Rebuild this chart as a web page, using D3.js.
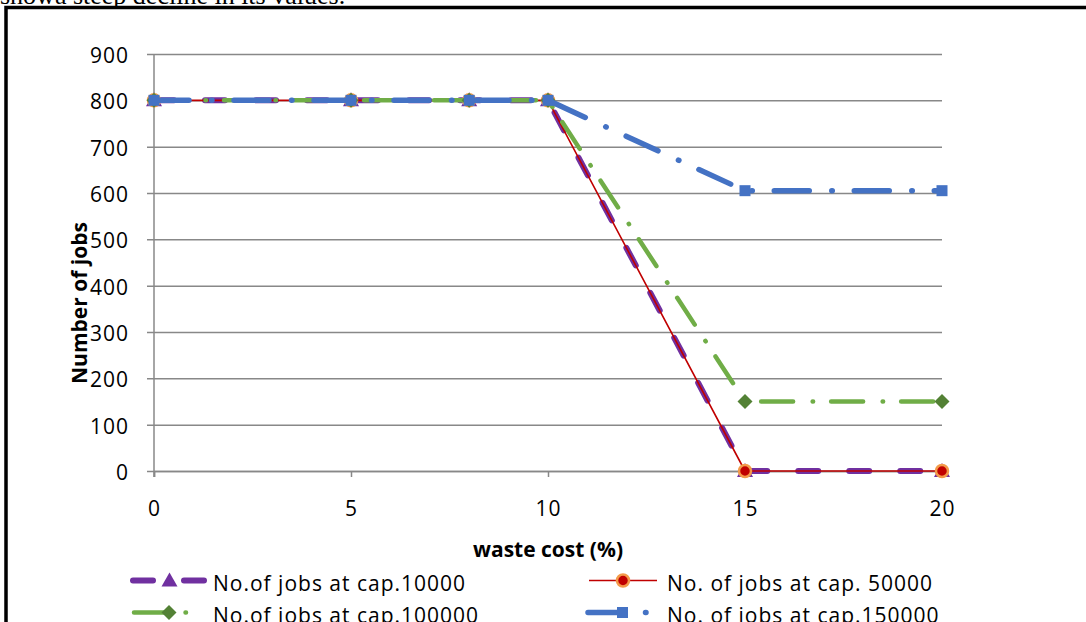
<!DOCTYPE html>
<html>
<head>
<meta charset="utf-8">
<script src="https://cdn.jsdelivr.net/npm/d3@7"></script>
<style>
  html, body { margin: 0; padding: 0; background: #fff; overflow: hidden; }
  svg { display: block; }
  text { font-family: "Open Sans", sans-serif; fill: #000; }
</style>
</head>
<body>
<svg id="chart" width="1086" height="622"></svg>
<script>
// waste cost (%) values on the x axis
const wasteCost = [0, 5, 8, 10, 15, 20];
// number of jobs for each capacity
const jobsCap10000  = [800, 800, 800, 800, 0, 0];
const jobsCap50000  = [800, 800, 800, 800, 0, 0];
const jobsCap100000 = [800, 800, 800, 800, 150, 150];
const jobsCap150000 = [800, 800, 800, 800, 605, 605];
const seriesNames = [
  "No.of jobs at cap.10000",
  "No. of jobs at cap. 50000",
  "No.of jobs at cap.100000",
  "No. of jobs at cap.150000"
];
const xTicks = [0, 5, 10, 15, 20];
const yTicks = [0, 100, 200, 300, 400, 500, 600, 700, 800, 900];

const svg = d3.select("#chart");

// paragraph text above the figure frame
svg.append("text")
  .attr("x", 0).attr("y", 4)
  .style("font-family", "'Liberation Serif', serif")
  .style("font-size", "26px")
  .text("showa steep decline in its values.");

// figure frame
svg.append("path")
  .attr("d", "M6,622 V7.5 H1086")
  .attr("fill", "none").attr("stroke", "#000").attr("stroke-width", 3.5);

const x = d3.scaleLinear().domain([0, 20]).range([154, 942]);
const y = d3.scaleLinear().domain([0, 900]).range([471, 54]);

// horizontal gridlines + y ticks
const yAxis = d3.axisLeft(y).tickValues(yTicks).tickSize(-(942 - 147)).tickPadding(18)
  .tickFormat(d3.format("d"));
const gy = svg.append("g").attr("transform", "translate(147,0)").call(yAxis);
gy.select(".domain").remove();
gy.selectAll(".tick line").attr("stroke", "#888").attr("stroke-width", 1.5);
gy.selectAll(".tick text")
  .attr("x", -18).attr("dy", "0.4em")
  .style("font-size", "21px").style("letter-spacing", "1px")
  .style("font-family", "'Open Sans', sans-serif").attr("fill", "#000");

// x axis
const xAxis = d3.axisBottom(x).tickValues(xTicks).tickSize(6).tickPadding(24)
  .tickFormat(d3.format("d"));
const gx = svg.append("g").attr("transform", "translate(0,471)").call(xAxis);
gx.select(".domain").attr("stroke", "#888").attr("stroke-width", 1.5);
gx.selectAll(".tick line").attr("stroke", "#888").attr("stroke-width", 1.5);
gx.selectAll(".tick text")
  .style("font-size", "21px").style("letter-spacing", "1px")
  .style("font-family", "'Open Sans', sans-serif").attr("fill", "#000");

// y axis line
svg.append("line")
  .attr("x1", x(0)).attr("x2", x(0)).attr("y1", y(900)).attr("y2", 477)
  .attr("stroke", "#888").attr("stroke-width", 1.5);

// axis titles
svg.append("text")
  .attr("x", 548).attr("y", 557)
  .attr("text-anchor", "middle")
  .style("font-size", "21px").style("font-weight", "bold")
  .text("waste cost (%)");
svg.append("text")
  .attr("transform", "translate(87,303) rotate(-90)")
  .attr("text-anchor", "middle")
  .style("font-size", "21px").style("font-weight", "bold")
  .text("Number of jobs");

// marker shapes
const markerDefs = {
  triangle: g => g.append("path").attr("d", "M0,-8 L8,6 L-8,6 Z").attr("fill", "#7030A0"),
  circle: g => g.append("circle").attr("r", 6).attr("fill", "#C00000")
    .attr("stroke", "#F39A4A").attr("stroke-width", 2.5),
  diamond: g => g.append("path").attr("d", "M0,-7.5 L7.5,0 L0,7.5 L-7.5,0 Z").attr("fill", "#538135"),
  square: g => g.append("rect").attr("x", -5.5).attr("y", -5.5).attr("width", 11).attr("height", 11)
    .attr("fill", "#4472C4")
};

const series = [
  { name: seriesNames[0], values: jobsCap10000, color: "#7030A0", width: 6, dash: "20,31", cap: "round", marker: "triangle" },
  { name: seriesNames[1], values: jobsCap50000, color: "#C00000", width: 1.6, dash: null, cap: "butt", marker: "circle" },
  { name: seriesNames[2], values: jobsCap100000, color: "#70AD47", width: 4.5, dash: "32,19.5,0.5,18", cap: "round", marker: "diamond" },
  { name: seriesNames[3], values: jobsCap150000, color: "#4472C4", width: 5.5, dash: "35,22.5,0.5,22", cap: "round", marker: "square" }
];

const line = d3.line().x((d, i) => x(wasteCost[i])).y(d => y(d));

series.forEach(s => {
  const g = svg.append("g");
  g.append("path")
    .datum(s.values)
    .attr("d", line)
    .attr("fill", "none")
    .attr("stroke", s.color)
    .attr("stroke-width", s.width)
    .attr("stroke-linecap", s.cap)
    .attr("stroke-linejoin", "round")
    .attr("stroke-dasharray", s.dash);
  s.values.forEach((v, i) => {
    const m = g.append("g").attr("transform", `translate(${x(wasteCost[i])},${y(v)})`);
    markerDefs[s.marker](m);
  });
});

// legend
const legendPos = [
  { x1: 133, x2: 206, ty: 590.5, tx: 213 },
  { x1: 589, x2: 657, ty: 590.5, tx: 667 },
  { x1: 134, x2: 204, ty: 622.5, tx: 213 },
  { x1: 588, x2: 657, ty: 622.5, tx: 667 }
];
series.forEach((s, i) => {
  const p = legendPos[i];
  const cy = p.ty - 10;
  const g = svg.append("g");
  g.append("line")
    .attr("x1", p.x1).attr("x2", p.x2).attr("y1", cy).attr("y2", cy)
    .attr("stroke", s.color).attr("stroke-width", s.width)
    .attr("stroke-linecap", s.cap)
    .attr("stroke-dasharray", s.dash);
  const m = g.append("g").attr("transform", `translate(${(p.x1 + p.x2) / 2},${cy})`);
  markerDefs[s.marker](m);
  g.append("text")
    .attr("x", p.tx).attr("y", p.ty)
    .style("font-size", "21px").style("letter-spacing", "1px")
    .text(s.name);
});
</script>
</body>
</html>
